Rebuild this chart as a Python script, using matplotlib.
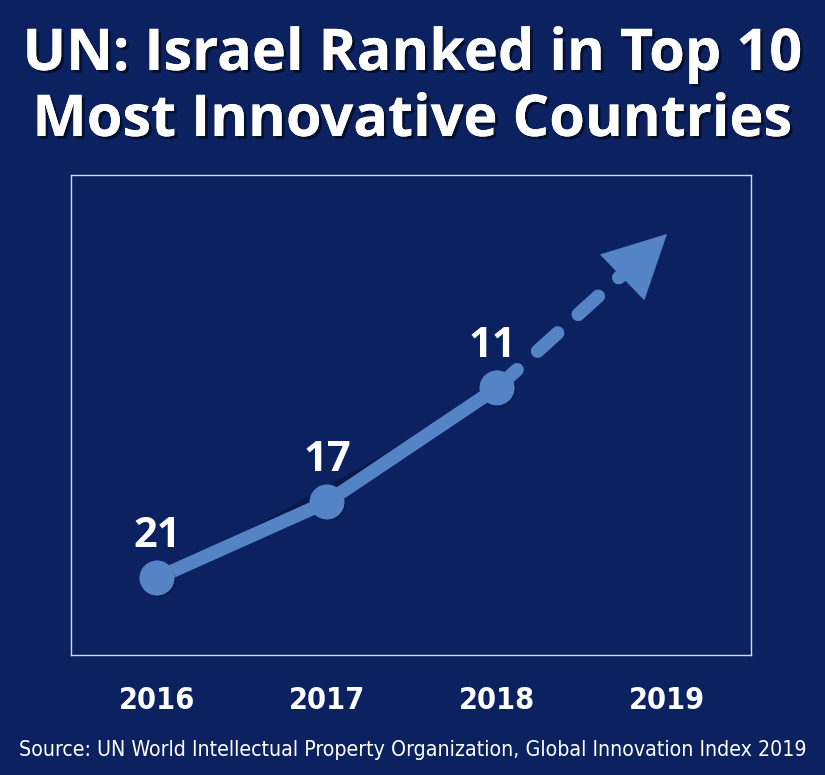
import matplotlib
matplotlib.use("Agg")
import matplotlib.pyplot as plt
import matplotlib.patheffects as pe
from matplotlib import font_manager as fm

# data: Israel's Global Innovation Index rank by year
years = [2016, 2017, 2018]
ranks = [21, 17, 11]
year_ticks = [2016, 2017, 2018, 2019]
# the dashed "next step" arrow points up to here
arrow_end = (2019, 2.9)

bg = "#0b2160"
line_c = "#5483c6"


def weight_num(w):
    if isinstance(w, int):
        return w
    return {"bold": 700, "semibold": 600, "demibold": 600, "heavy": 800,
            "black": 900, "light": 300, "normal": 400, "regular": 400,
            "medium": 500}.get(str(w).lower(), 400)


def pick_condensed(bold):
    # look for a narrow / condensed face, if any is installed
    hits = []
    for f in fm.fontManager.ttflist:
        st = f.stretch
        narrow = ("Condensed" in f.name or "Narrow" in f.name
                  or st in ("condensed", "semi-condensed", "extra-condensed")
                  or (isinstance(st, int) and st < 100))
        if not narrow or f.style != "normal":
            continue
        w = weight_num(f.weight)
        if bold and w >= 600:
            hits.append((abs(w - 700), f.fname))
        if not bold and w <= 400:
            hits.append((400 - w, f.fname))
    if hits:
        hits.sort()
        return fm.FontProperties(fname=hits[0][1]), True
    return fm.FontProperties(family="Open Sans",
                             weight="bold" if bold else "normal"), False


cond_bold, cb_ok = pick_condensed(True)
cond_reg, cr_ok = pick_condensed(False)

shadow = [pe.withSimplePatchShadow(offset=(2, -2), shadow_rgbFace="black", alpha=0.5), pe.Normal()]
soft = [pe.withSimplePatchShadow(offset=(1.5, -1.5), shadow_rgbFace="black", alpha=0.25), pe.Normal()]

fig = plt.figure(figsize=(8.25, 7.75), dpi=100, facecolor=bg)
ax = fig.add_axes([71 / 825, 1 - 655 / 775, 680 / 825, 480 / 775], facecolor=bg)

# solid line with dots
ax.plot(years, ranks, color=line_c, lw=9.5, solid_capstyle="round",
        marker="o", markersize=24, zorder=3, path_effects=soft)

# dashed part towards 2019, running in under the arrow head
ax.plot([years[-1], arrow_end[0] - 0.16], [ranks[-1], arrow_end[1] + 1.3],
        color=line_c, lw=9.5, dashes=(2.05, 2.1), dash_capstyle="round",
        zorder=2, path_effects=soft)
ax.annotate("", xy=arrow_end, xytext=(arrow_end[0] - 0.3, arrow_end[1] + 2.6),
            arrowprops=dict(arrowstyle="-|>,head_length=4.5,head_width=2.3",
                            color=line_c, lw=0, shrinkA=0, shrinkB=0),
            zorder=2.5)

for x, r in zip(years, ranks):
    ax.text(x - (0.03 if r == 11 else 0), r - 1.1, str(r), ha="center", va="bottom",
            color="white", fontsize=30, fontweight="bold", family="Open Sans")

ax.set_xlim(2015.494, 2019.494)
ax.set_ylim(25.05, -0.2)
ax.set_xticks([])
ax.set_yticks([])
for s in ax.spines.values():
    s.set_color("#d8dcea")
    s.set_linewidth(1)

for y in year_ticks:
    ax.text(y, 25.05 + 2.4, str(y), ha="center", va="center", color="white",
            fontproperties=cond_bold, fontsize=22 if cb_ok else 20,
            clip_on=False)

fig.text(0.5, 1 - 55 / 775, "UN: Israel Ranked in Top 10", ha="center", va="center",
         color="white", fontsize=41.5, fontweight="bold", family="Open Sans",
         path_effects=shadow)
fig.text(0.5, 1 - 121 / 775, "Most Innovative Countries", ha="center", va="center",
         color="white", fontsize=41.5, fontweight="bold", family="Open Sans",
         path_effects=shadow)
fig.text(0.5, 1 - 750 / 775,
         "Source: UN World Intellectual Property Organization, Global Innovation Index 2019",
         ha="center", va="center", color="white",
         fontproperties=cond_reg, fontsize=15.3 if cr_ok else 13.5)

fig.savefig("out.png", dpi=100, facecolor=bg)
